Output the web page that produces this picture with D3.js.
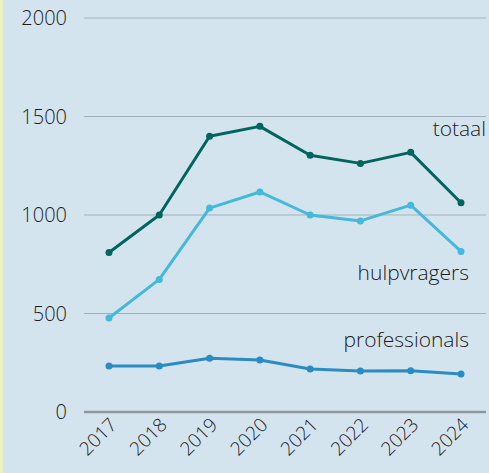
<!DOCTYPE html>
<html>
<head>
<meta charset="utf-8">
<script src="https://cdn.jsdelivr.net/npm/d3@7"></script>
<style>
  html, body { margin: 0; padding: 0; }
  body { width: 489px; height: 473px; background: #d4e4ee; overflow: hidden; }
  #chart { display: block; }
  text { font-family: "Open Sans", "Lato", sans-serif; font-weight: 300; fill: #1c1c1c; }
</style>
</head>
<body>
<svg id="chart" width="489" height="473"></svg>
<script>
// data
let years = ['2017', '2018', '2019', '2020', '2021', '2022', '2023', '2024'];
let totaal        = [810, 1000, 1400, 1450, 1303, 1262, 1318, 1062];
let hulpvragers   = [477, 673, 1035, 1117, 1000, 970, 1050, 815];
let professionals = [233, 234, 273, 264, 218, 208, 210, 193];
let yTicks = [0, 500, 1000, 1500, 2000];

let series = [
    { name: 'totaal',        values: totaal,        color: '#00655f', labelX: 486, labelY: 136 },
    { name: 'hulpvragers',   values: hulpvragers,   color: '#45b9d9', labelX: 469, labelY: 280 },
    { name: 'professionals', values: professionals, color: '#2a8cc0', labelX: 469, labelY: 347 }
];

let svg = d3.select('#chart');

// left accent strip
svg.append('rect')
    .attr('x', 0).attr('y', 0)
    .attr('width', 3).attr('height', 473)
    .attr('fill', '#eef2c0');

let x = d3.scalePoint().domain(years).range([109, 461]);
let y = d3.scaleLinear().domain([0, 2000]).range([412, 18]);

// gridlines
svg.append('g').selectAll('line')
    .data(yTicks)
    .join('line')
    .attr('x1', 84).attr('x2', 486)
    .attr('y1', d => y(d)).attr('y2', d => y(d))
    .attr('stroke', d => d === 0 ? '#8e979d' : '#a4b0b9')
    .attr('stroke-width', d => d === 0 ? 2.5 : 1);

// y labels
svg.append('g').selectAll('text')
    .data(yTicks)
    .join('text')
    .attr('x', 67)
    .attr('y', d => y(d))
    .attr('dy', '0.35em')
    .attr('text-anchor', 'end')
    .style('font-size', '20px')
    .text(d => d);

// x labels, rotated
svg.append('g').selectAll('text')
    .data(years)
    .join('text')
    .attr('text-anchor', 'end')
    .attr('transform', d => `translate(${x(d) + 9},${426}) rotate(-45)`)
    .style('font-size', '19px')
    .text(d => d);

let line = d3.line()
    .x((d, i) => x(years[i]))
    .y(d => y(d));

series.forEach(s => {
    let g = svg.append('g');
    g.append('path')
        .datum(s.values)
        .attr('d', line)
        .attr('fill', 'none')
        .attr('stroke', s.color)
        .attr('stroke-width', 3)
        .attr('stroke-linejoin', 'round');
    g.selectAll('circle')
        .data(s.values)
        .join('circle')
        .attr('cx', (d, i) => x(years[i]))
        .attr('cy', d => y(d))
        .attr('r', 3.5)
        .attr('fill', s.color);
    svg.append('text')
        .attr('x', s.labelX)
        .attr('y', s.labelY)
        .attr('text-anchor', 'end')
        .style('font-size', '21px')
        .text(s.name);
});
</script>
</body>
</html>
